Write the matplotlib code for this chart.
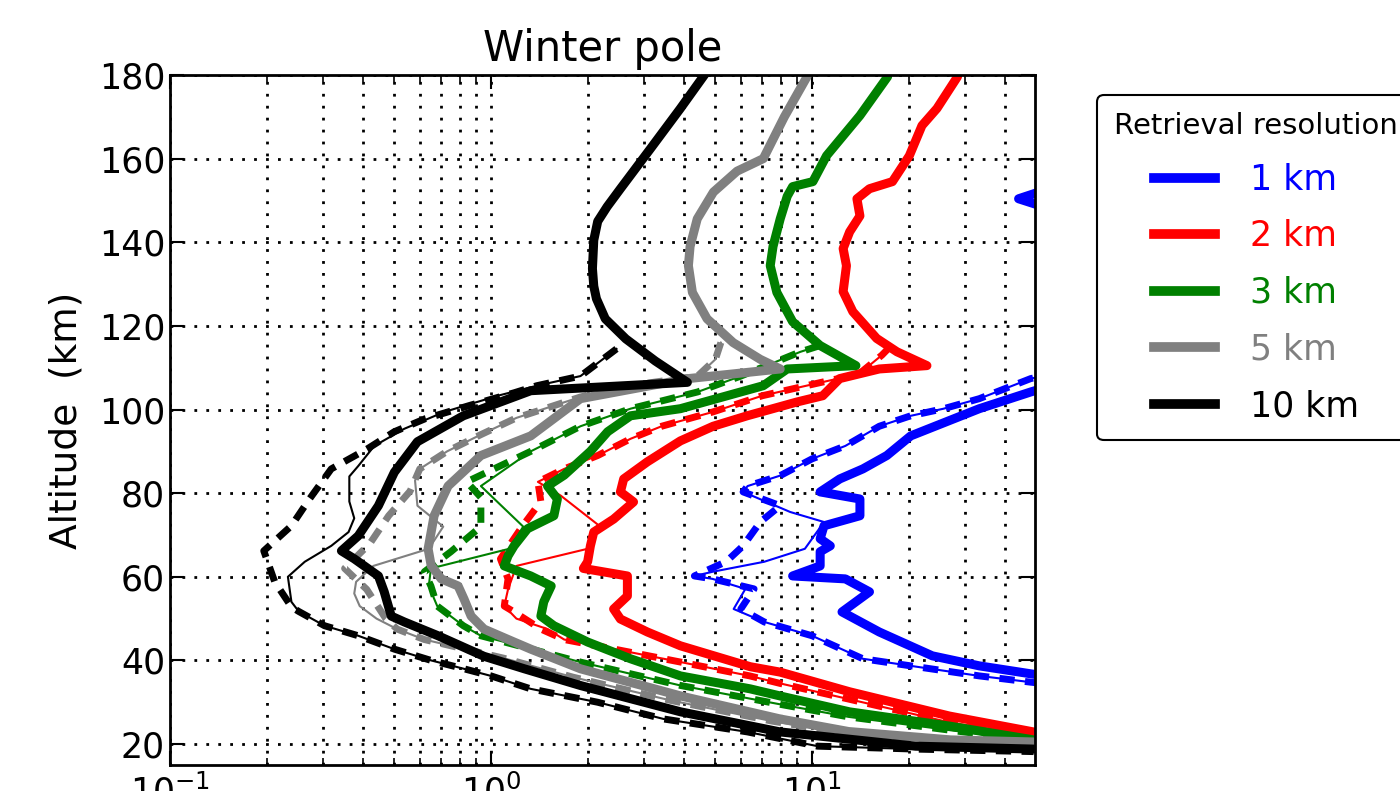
# Winter pole: retrieval error profiles vs altitude for several retrieval resolutions

import matplotlib.pyplot as plt
from matplotlib.lines import Line2D

# ---------------- data (x value, altitude in km) ----------------
resolutions = ['1 km', '2 km', '3 km', '5 km', '10 km']
colors = ['blue', 'red', 'green', 'gray', 'black']

# 1 km
blue_thick_x = [200, 80, 44, 80, 150, 70, 48, 33.2, 20.3, 17.1, 14.4, 12.2, 10.6, 14.1, 14.1, 10.9, 10.6, 11.4,
                10.6, 10.6, 8.7, 12.7, 15.1, 12.4, 16.2, 23.7, 33.2, 48, 70]
blue_thick_alt = [180, 157, 150.4, 144, 125, 108, 104.2, 100.2, 93.7, 89, 85.8, 83.4, 80.3, 78.6, 74.6, 72.2, 69.1,
                  67.4, 66, 62.6, 60.2, 59.5, 56.4, 51.6, 46.8, 41.1, 38.7, 36.8, 35]
blue_thin_x = [70, 48, 33.2, 25.7, 20.3, 16.2, 12.7, 10, 7.96, 6.3, 6.1, 8.55, 10.9, 9.5, 7.1, 4.9, 4.3, 4.9, 6.2,
               5.7, 7.1, 10, 14.4, 20.3, 33.2, 48, 70]
blue_thin_alt = [110, 107.4, 102.6, 100.2, 98.5, 96, 91.3, 88.2, 84.2, 81.7, 80.3, 75.5, 73.1, 66.7, 63.6, 61.2,
                 60.2, 59.5, 57.1, 52.3, 49.2, 45.9, 40.4, 38.7, 36.3, 34.8, 33.5]
blue_dash_x = [70, 48, 33.2, 25.7, 20.3, 16.2, 12.7, 10, 7.96, 6.3, 6.1, 7.96, 6.9, 6.1, 5.4, 4.3, 4.9, 6.6, 6.0,
               7.1, 10, 14.4, 20.3, 33.2, 48, 70]
blue_dash_alt = [110, 107.4, 102.6, 100.2, 98.5, 96, 91.3, 88.2, 84.2, 81.7, 80.3, 77, 73.1, 67.4, 63.6, 60.2,
                 59.5, 57.1, 52.3, 49.2, 45.9, 40.4, 38.7, 36.3, 34.8, 33.5]

# 2 km
red_thick_x = [28.4, 24.5, 22.0, 20.1, 17.8, 15.1, 13.8, 14.1, 13.1, 12.5, 12.8, 12.5, 13.4, 15.9, 18.4, 22.8,
               16.2, 12.2, 10.8, 8.97, 6.28, 4.92, 3.89, 3.07, 2.59, 2.53, 2.78, 2.41, 2.09, 2.04, 2.0, 1.94,
               2.66, 2.66, 2.41, 2.53, 3.07, 3.89, 6.42, 7.96, 13.1, 26.8, 49]
red_thick_alt = [179.6, 172, 167.9, 160.7, 154.5, 152.8, 150.4, 146.3, 142.5, 138.5, 134.4, 128.2, 123.4, 117,
                 113.8, 110.5, 109.7, 107.4, 103.3, 101.8, 98.5, 96, 92.5, 87.5, 83.4, 80.3, 77.9, 73.8, 70.7,
                 67.4, 63.6, 62, 60.2, 55.4, 52.3, 49.9, 46.8, 43.5, 38.5, 37.2, 32.5, 26.7, 22.9]
red_thin_x = [17.5, 16.5, 14, 10, 7.0, 4.9, 3.4, 2.72, 2.15, 1.69, 1.4, 1.65, 2.15, 2.0, 1.2, 1.13, 1.1, 1.2, 1.5,
              1.69, 2.5, 3.9, 6.4, 7.96, 13.1, 26.8, 49]
red_thin_alt = [115, 113, 108.5, 106, 103.3, 99.4, 96, 93, 89, 85.8, 82.7, 79.4, 72.5, 66.7, 62.6, 57, 53, 50,
                47.5, 45, 42.5, 39.6, 36.3, 34.5, 30.7, 25.2, 22]
red_dash_x = [17.5, 16.5, 14, 10, 7.0, 4.9, 3.4, 2.72, 2.15, 1.69, 1.4, 1.43, 1.25, 1.07, 1.13, 1.1, 1.18, 1.43,
              1.69, 2.5, 3.9, 6.4, 7.96, 13.1, 26.8, 49]
red_dash_alt = [115, 113, 108.5, 106, 103.3, 99.4, 96, 93, 89, 85.8, 82.7, 78, 72, 64.3, 59.5, 53, 51.6, 47.5,
                45, 42.5, 39.6, 36.3, 34.5, 30.7, 25.2, 22]

# 3 km
green_thick_x = [17.2, 14.1, 11.1, 10.06, 8.7, 8.37, 7.96, 7.56, 7.41, 7.77, 8.7, 10.6, 13.7, 8.37, 7.05, 3.89,
                 2.72, 2.31, 2.04, 1.69, 1.50, 1.61, 1.57, 1.30, 1.18, 1.13, 1.10, 1.33, 1.54, 1.46, 1.43, 1.57,
                 2.0, 2.72, 3.89, 6.42, 7.96, 13.1, 26.8, 49]
green_thick_alt = [179.6, 170.3, 160.7, 154.5, 153.3, 151, 145.6, 139, 134.4, 128, 121, 115.3, 110.5, 109.7,
                   105.7, 100.2, 98.5, 94.7, 90, 84.3, 81.7, 78.6, 74.6, 71.5, 67.4, 65, 62.6, 60.2, 57.8, 54,
                   50.6, 48.3, 44.4, 40.4, 36.3, 33.2, 31.5, 27.7, 24.3, 21]
green_thin_x = [10.6, 9.2, 6.0, 4.4, 2.72, 1.9, 1.33, 0.93, 1.26, 1.14, 0.65, 0.64, 0.68, 0.82, 0.93, 1.9, 3.9,
                7.96, 13, 27, 49]
green_thin_alt = [115.3, 113.8, 108, 104.2, 100.2, 96, 90, 81.7, 72, 66.7, 62, 57.8, 53, 48.3, 45.9, 39.6, 34,
                  29.5, 26.5, 23.3, 20.8]
green_dash_x = [10.6, 9.2, 6.0, 4.4, 2.72, 1.9, 1.33, 0.84, 0.93, 0.93, 0.75, 0.62, 0.65, 0.68, 0.82, 0.93, 1.9,
                3.9, 7.96, 13, 27, 49]
green_dash_alt = [115.3, 113.8, 108, 104.2, 100.2, 96, 90, 82.7, 79, 72, 66, 61.2, 57.8, 53, 48.3, 45.9, 39.6,
                  34, 29.5, 26.5, 23.3, 20.8]

# 5 km
gray_thick_x = [9.65, 8.2, 7.05, 5.84, 4.93, 4.39, 4.17, 4.12, 4.24, 4.71, 5.68, 6.9, 7.96, 4.12, 1.9, 1.33, 0.93,
                0.735, 0.665, 0.637, 0.651, 0.70, 0.79, 0.824, 0.867, 0.951, 1.18, 1.33, 1.9, 3.9, 7.96, 13, 27, 49]
gray_thick_alt = [179.6, 170, 160, 157, 152, 145.6, 139, 134.4, 128, 121.7, 116, 112, 109.7, 107.4, 102.6, 93.7,
                  89, 81.7, 74.6, 66.7, 62.7, 59.5, 57.8, 54.7, 50.6, 47.5, 44.4, 42.7, 38, 31.5, 26, 23, 21, 20.5]
gray_thin_x = [5.2, 5.0, 4.4, 2.7, 1.9, 1.2, 0.93, 0.73, 0.60, 0.58, 0.59, 0.71, 0.64, 0.43, 0.38, 0.375, 0.39,
               0.44, 0.51, 0.62, 0.8, 1.1, 1.8, 3.6, 7.5, 13, 27, 49]
gray_thin_alt = [116, 112, 108, 105.7, 103, 98, 94, 90, 85.8, 83, 77, 72, 66.7, 62.6, 58.8, 56, 53, 50, 47.5, 45,
                 43, 40.5, 36, 30.5, 25.5, 22.5, 20.8, 20]
gray_dash_x = [5.2, 5.0, 4.4, 2.7, 1.9, 1.2, 0.93, 0.73, 0.60, 0.56, 0.48, 0.42, 0.35, 0.41, 0.47, 0.51, 0.62,
               0.8, 1.1, 1.8, 3.6, 7.5, 13, 27, 49]
gray_dash_alt = [116, 112, 108, 105.7, 103, 98, 94, 90, 85.8, 80.5, 74.6, 68, 62, 57, 50, 47.5, 45, 43, 40.5,
                 36, 30.5, 25.5, 22.5, 20.8, 20]

# 10 km
black_thick_x = [4.65, 3.89, 3.14, 2.53, 2.3, 2.15, 2.09, 2.07, 2.09, 2.13, 2.27, 2.63, 3.25, 4.09, 1.33, 0.82,
                 0.59, 0.50, 0.446, 0.386, 0.342, 0.375, 0.446, 0.465, 0.489, 0.537, 0.684, 0.95, 1.27, 1.9, 3.9,
                 7.96, 21, 49]
black_thick_alt = [180.3, 172, 162.4, 152.8, 148.5, 145, 140.5, 133.7, 129.5, 126.5, 121.7, 116.9, 111.6, 106.5,
                   104.5, 98.5, 92.3, 85, 77, 69.8, 66.2, 64.3, 60.2, 56.4, 50.6, 49.2, 45.9, 41, 38, 34, 27.7,
                   22.9, 19.5, 18.8]
black_thin_x = [2.46, 1.9, 1.39, 1.05, 0.714, 0.537, 0.433, 0.386, 0.362, 0.362, 0.375, 0.36, 0.318, 0.263, 0.233,
                0.239, 0.252, 0.303, 0.386, 0.50, 0.651, 0.824, 1.0, 1.33, 2.15, 3.45, 6.3, 10.4, 21, 49]
black_thin_alt = [114.5, 108, 105.7, 103.3, 99.4, 95.4, 91.3, 86.5, 84, 78, 74, 70.7, 67.4, 63.6, 60, 54, 51.7,
                  48.3, 45.9, 42.7, 40, 38, 36.3, 33.2, 30, 26, 22.9, 19.5, 18.8, 18.2]
black_dash_x = [2.46, 1.9, 1.39, 1.18, 0.86, 0.624, 0.50, 0.412, 0.318, 0.272, 0.239, 0.196, 0.212, 0.239, 0.252,
                0.303, 0.386, 0.50, 0.651, 0.824, 1.0, 1.33, 2.15, 3.45, 6.3, 10.4, 21, 49]
black_dash_alt = [114.5, 108, 105.7, 104, 101, 97.8, 94.7, 90.6, 85.8, 78.6, 72.2, 66.2, 58.8, 52.8, 51.7, 48.3,
                  45.9, 42.7, 40, 38, 36.3, 33.2, 30, 26, 22.9, 19.5, 18.8, 18.2]

yticks = [20, 40, 60, 80, 100, 120, 140, 160, 180]

curves = [
    (blue_thick_x, blue_thick_alt, blue_thin_x, blue_thin_alt, blue_dash_x, blue_dash_alt),
    (red_thick_x, red_thick_alt, red_thin_x, red_thin_alt, red_dash_x, red_dash_alt),
    (green_thick_x, green_thick_alt, green_thin_x, green_thin_alt, green_dash_x, green_dash_alt),
    (gray_thick_x, gray_thick_alt, gray_thin_x, gray_thin_alt, gray_dash_x, gray_dash_alt),
    (black_thick_x, black_thick_alt, black_thin_x, black_thin_alt, black_dash_x, black_dash_alt),
]

plt.rcParams['font.family'] = ['DejaVu Sans']
plt.rcParams['mathtext.default'] = 'regular'

fig = plt.figure(figsize=(14, 7.91), dpi=100)
ax = fig.add_axes([0.1214, 0.0329, 0.6179, 0.8723])

handles = []
for c, (tx, ta, nx, na, dx, da) in zip(colors, curves):
    ax.plot(tx, ta, color=c, lw=6.5, solid_joinstyle='round', solid_capstyle='round')
    ax.plot(nx, na, color=c, lw=1.5)
    ax.plot(dx, da, color=c, lw=5, dashes=(2.2, 1.5))
    handles.append(Line2D([], [], color=c, lw=7))

ax.set_xscale('log')
ax.set_xlim(0.1, 49.5)
ax.set_ylim(15, 180)
ax.set_yticks(yticks)

dots = (0, (1, 3.3))
ax.grid(True, which='major', axis='both', color='k', linestyle=dots, lw=2)
ax.grid(True, which='minor', axis='x', color='k', linestyle=dots, lw=2)

ax.tick_params(which='both', direction='in', top=True, right=True, labelsize=25)
ax.tick_params(which='major', length=10, width=1.5)
ax.tick_params(which='minor', length=5, width=1.2)
ax.tick_params(axis='x', which='major', pad=7)
for s in ax.spines.values():
    s.set_linewidth(2)

ax.set_title('Winter pole', fontsize=30, pad=10)
ax.set_ylabel('Altitude  (km)', fontsize=27, labelpad=10)

leg = ax.legend(handles, resolutions, title='Retrieval resolution', loc='upper left',
                bbox_to_anchor=(0.7836, 0.88), bbox_transform=fig.transFigure,
                fontsize=25, title_fontsize=21, handlelength=1.75, handletextpad=1.0,
                labelspacing=0.65, borderpad=0.5, borderaxespad=0, fancybox=True,
                framealpha=1, edgecolor='k')
for t, c in zip(leg.get_texts(), colors):
    t.set_color(c)
leg.get_frame().set_linewidth(1.5)

fig.savefig('out.png', dpi=100)
